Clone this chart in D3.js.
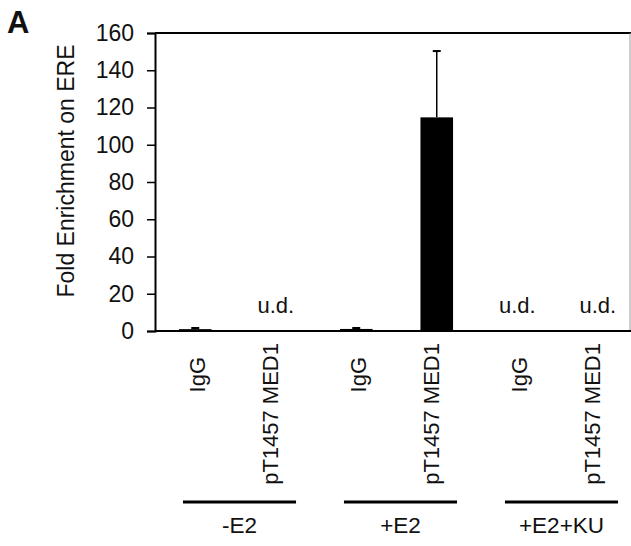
<!DOCTYPE html>
<html>
<head>
<meta charset="utf-8">
<script src="https://cdn.jsdelivr.net/npm/d3@7"></script>
<style>
	body { margin: 0; background: #fff; }
	text { font-family: "Liberation Sans", Arial, sans-serif; fill: #111; }
</style>
</head>
<body>
<div id="theChart"></div>
<script>
// data
const labels = ["IgG", "pT1457 MED1", "IgG", "pT1457 MED1", "IgG", "pT1457 MED1"]
const groups = ["-E2", "+E2", "+E2+KU"]
const values = [1.0, null, 1.1, 114.7, null, null] // null = u.d.
const errors = [0.6, null, 0.5, 35.6, null, null]
const yTicks = [0, 20, 40, 60, 80, 100, 120, 140, 160]

const w = 631
const h = 546
const plotLeft = 155
const plotTop = 33
const plotBottom = 331

const svg = d3
	.select("#theChart")
	.append("svg")
	.attr("width", w)
	.attr("height", h)

const xScale = d3
	.scaleBand()
	.domain(d3.range(labels.length))
	.range([plotLeft, 638])
	.paddingInner(0.595)
	.paddingOuter(0.2975)

const yScale = d3.scaleLinear().domain([0, 160]).range([plotBottom, plotTop])

// panel letter
svg.append("text")
	.attr("x", 7)
	.attr("y", 33)
	.attr("font-size", 31)
	.attr("font-weight", "bold")
	.attr("fill", "#000")
	.text("A")

// frame: top black, right grey
svg.append("line")
	.attr("x1", plotLeft).attr("x2", w)
	.attr("y1", yScale(160)).attr("y2", yScale(160))
	.attr("stroke", "#000").attr("stroke-width", 2)
svg.append("line")
	.attr("x1", w - 1).attr("x2", w - 1)
	.attr("y1", yScale(160)).attr("y2", yScale(0))
	.attr("stroke", "#999").attr("stroke-width", 1)

// bars
const cx = i => xScale(i) + xScale.bandwidth() / 2

svg.selectAll("rect.bar")
	.data(values.map((v, i) => ({ v, i })).filter(d => d.v !== null))
	.enter()
	.append("rect")
	.attr("class", "bar")
	.attr("x", d => xScale(d.i))
	.attr("width", xScale.bandwidth())
	.attr("y", d => yScale(d.v))
	.attr("height", d => yScale(0) - yScale(d.v))
	.attr("fill", "#000")

// error bars (upper only)
const errData = values
	.map((v, i) => ({ v, e: errors[i], i }))
	.filter(d => d.v !== null)

svg.selectAll("line.err")
	.data(errData)
	.enter()
	.append("line")
	.attr("class", "err")
	.attr("x1", d => cx(d.i)).attr("x2", d => cx(d.i))
	.attr("y1", d => yScale(d.v)).attr("y2", d => yScale(d.v + d.e))
	.attr("stroke", "#000").attr("stroke-width", 1.5)

svg.selectAll("line.cap")
	.data(errData)
	.enter()
	.append("line")
	.attr("class", "cap")
	.attr("x1", d => cx(d.i) - 4).attr("x2", d => cx(d.i) + 4)
	.attr("y1", d => yScale(d.v + d.e)).attr("y2", d => yScale(d.v + d.e))
	.attr("stroke", "#000").attr("stroke-width", 2)

// u.d. marks
svg.selectAll("text.ud")
	.data(values.map((v, i) => ({ v, i })).filter(d => d.v === null))
	.enter()
	.append("text")
	.attr("class", "ud")
	.attr("x", d => cx(d.i))
	.attr("y", yScale(0) - 18)
	.attr("text-anchor", "middle")
	.attr("font-size", 22)
	.text("u.d.")

// y axis
const yAxis = d3.axisLeft(yScale).tickValues(yTicks).tickSize(8).tickPadding(13)
const yG = svg.append("g").attr("transform", `translate(${plotLeft},0)`).call(yAxis)
yG.select(".domain").attr("stroke", "#000").attr("stroke-width", 2)
yG.selectAll(".tick line").attr("stroke", "#000").attr("stroke-width", 1.5)
yG.selectAll(".tick text")
	.attr("font-size", 23)
	.attr("font-family", "Liberation Sans, Arial, sans-serif")
	.attr("fill", "#111")

// x axis line
svg.append("line")
	.attr("x1", plotLeft).attr("x2", w)
	.attr("y1", yScale(0)).attr("y2", yScale(0))
	.attr("stroke", "#000").attr("stroke-width", 2)

// category labels, rotated
svg.selectAll("text.cat")
	.data(labels)
	.enter()
	.append("text")
	.attr("class", "cat")
	.attr("transform", (d, i) => {
		const shiftX = d === "IgG" ? 10 : 2
		const yEnd = d === "IgG" ? 357 : 343
		return `translate(${cx(i) + shiftX},${yEnd}) rotate(-90)`
	})
	.attr("text-anchor", "end")
	.attr("font-size", 22)
	.text(d => d)

// y title
svg.append("text")
	.attr("transform", "translate(74,171) rotate(-90)")
	.attr("text-anchor", "middle")
	.attr("font-size", 23)
	.attr("fill", "#2a2a2a")
	.text("Fold Enrichment on ERE")

// treatment groups
groups.forEach((g, k) => {
	const x1 = xScale(2 * k) + 4
	const x2 = xScale(2 * k + 1) + xScale.bandwidth() + 4
	svg.append("line")
		.attr("x1", x1).attr("x2", x2)
		.attr("y1", 502).attr("y2", 502)
		.attr("stroke", "#000").attr("stroke-width", 3)
	svg.append("text")
		.attr("x", (x1 + x2) / 2)
		.attr("y", 533)
		.attr("text-anchor", "middle")
		.attr("font-size", 22.5)
		.text(g)
})
</script>
</body>
</html>
